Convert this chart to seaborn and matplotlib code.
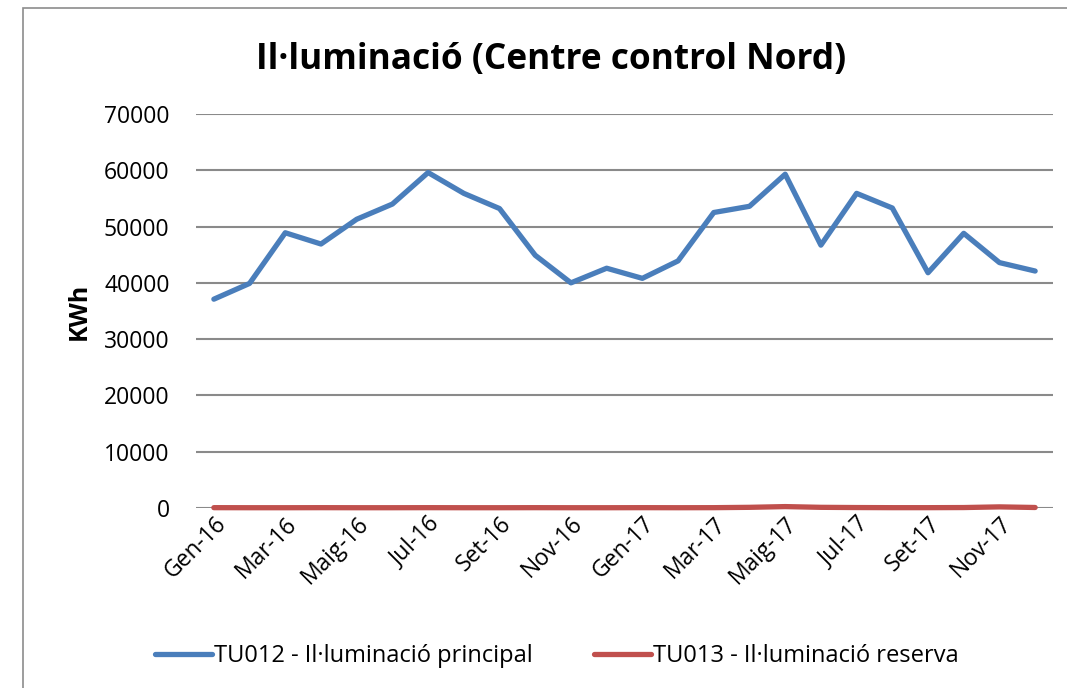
import numpy as np
import pandas as pd
import matplotlib
matplotlib.use("Agg")
import matplotlib.pyplot as plt
import seaborn as sns
from matplotlib.patches import Rectangle
from matplotlib.lines import Line2D

mesos = ["Gen-16", "Feb-16", "Mar-16", "Abr-16", "Maig-16", "Jun-16",
         "Jul-16", "Ago-16", "Set-16", "Oct-16", "Nov-16", "Des-16",
         "Gen-17", "Feb-17", "Mar-17", "Abr-17", "Maig-17", "Jun-17",
         "Jul-17", "Ago-17", "Set-17", "Oct-17", "Nov-17", "Des-17"]

principal = [37100, 39900, 48900, 46900, 51300, 54000,
             59600, 55900, 53200, 44900, 40000, 42600,
             40800, 43900, 52500, 53600, 59300, 46700,
             55900, 53300, 41800, 48800, 43600, 42100]

reserva = [60, 50, 50, 60, 50, 50,
           60, 50, 50, 60, 50, 50,
           60, 50, 60, 120, 250, 120,
           80, 60, 60, 80, 200, 90]

nom_principal = "TU012 - Il·luminació principal"
nom_reserva = "TU013 - Il·luminació reserva"

df = pd.DataFrame({
    "idx": list(range(len(mesos))) * 2,
    "kwh": principal + reserva,
    "serie": [nom_principal] * len(mesos) + [nom_reserva] * len(mesos),
})

sns.set_theme(style="white")
plt.rcParams["font.family"] = ["Open Sans", "DejaVu Sans"]
plt.rcParams["text.color"] = "black"
plt.rcParams["xtick.color"] = "black"
plt.rcParams["ytick.color"] = "black"
plt.rcParams["axes.labelcolor"] = "black"

fig = plt.figure(figsize=(10.67, 6.88), dpi=100)
ax = fig.add_axes([196 / 1067, 1 - 508 / 688, (1053 - 196) / 1067, (508 - 114) / 688])

fig.patches.append(Rectangle((23 / 1067, -0.1), 1.2, 1 - 8 / 688 + 0.1,
                             transform=fig.transFigure, fill=False,
                             edgecolor="#8c8c8c", linewidth=1.2))

sns.lineplot(data=df, x="idx", y="kwh", hue="serie",
             palette={nom_principal: "#4a7ebb", nom_reserva: "#c0504d"},
             linewidth=3.8, ax=ax, legend=False, zorder=3)
for ln in ax.lines:
    ln.set_clip_on(False)
    ln.set_solid_capstyle("round")
    ln.set_solid_joinstyle("round")

ax.set_xlim(-0.5, len(mesos) - 0.5)
ax.set_ylim(0, 70000)
ax.set_yticks(np.arange(0, 70001, 10000))
ax.set_yticklabels([str(v) for v in range(0, 70001, 10000)], fontsize=16.5)
ax.yaxis.grid(True, color="#8a8a8a", linewidth=1.5)
ax.xaxis.grid(False)
ax.set_axisbelow(True)
for s in ax.spines.values():
    s.set_visible(False)
ax.tick_params(axis="y", length=0, pad=19)
ax.tick_params(axis="x", length=0, pad=3)

ticks = list(range(0, len(mesos), 2))
ax.set_xticks(ticks)
ax.set_xticklabels([mesos[i] for i in ticks], rotation=45, ha="right",
                   rotation_mode="anchor", fontsize=16.5)
ax.set_xlabel("")
ax.set_ylabel("KWh", fontsize=18, fontweight="bold", labelpad=9)

fig.text(551 / 1067, 1 - 60 / 688, "Il·luminació (Centre control Nord)",
         ha="center", va="center", fontsize=25.4, fontweight="bold")

handles = [Line2D([], [], color="#4a7ebb", linewidth=3.8, solid_capstyle="round"),
           Line2D([], [], color="#c0504d", linewidth=3.8, solid_capstyle="round")]
fig.legend(handles, [nom_principal, nom_reserva], loc="center",
           bbox_to_anchor=(557 / 1067, 1 - 656 / 688), ncol=2, frameon=False,
           fontsize=17, handlelength=2.4, handletextpad=0.1, columnspacing=2.6)

fig.savefig("out.png", dpi=100)
